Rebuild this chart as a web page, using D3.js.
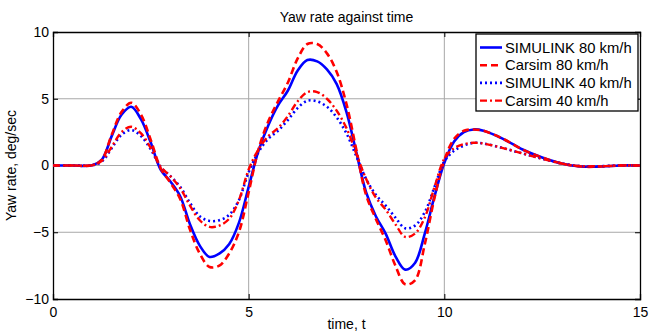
<!DOCTYPE html>
<html>
<head>
<meta charset="utf-8">
<script src="https://cdn.jsdelivr.net/npm/d3@7"></script>
<style>
  body { margin: 0; background: #fff; }
  text { font-family: "Liberation Sans", Arial, sans-serif; fill: #000; }
</style>
</head>
<body>
<div id="chart"></div>
<script>
//Datos
const TIME = [0, 0.5, 1.0, 1.25, 1.5, 1.75, 2.0, 2.25, 2.5, 2.75, 3.0, 3.25, 3.5, 3.75, 4.0, 4.25, 4.5, 4.75,
    5.0, 5.25, 5.5, 5.75, 6.0, 6.25, 6.5, 6.75, 7.0, 7.25, 7.5, 7.75, 8.0, 8.25, 8.5, 8.75, 9.0, 9.25, 9.5, 9.75,
    10.0, 10.25, 10.5, 10.75, 11.0, 11.5, 12.0, 12.5, 13.0, 13.5, 14.0, 14.5, 15];

const SIMULINK_80 = [0, 0, 0.02, 0.45, 2.2, 3.8, 4.4, 3.45, 1.7, -0.3, -1.2, -2.3, -4.4, -6.0, -6.85, -6.6, -5.9, -4.3,
    -1.6, 1.1, 3.0, 4.5, 5.6, 7.1, 7.9, 7.8, 7.2, 6.1, 4.0, 1.0, -2.0, -3.8, -5.1, -6.8, -7.8, -7.3, -5.1, -2.3,
    0.2, 1.8, 2.5, 2.7, 2.6, 2.0, 1.2, 0.6, 0.15, -0.08, -0.08, 0, 0];

const CARSIM_80 = [0, 0, 0.02, 0.45, 2.3, 4.0, 4.7, 3.8, 1.9, -0.2, -1.3, -2.5, -4.8, -6.6, -7.6, -7.5, -6.6, -5.0,
    -2.0, 1.2, 3.3, 4.8, 6.2, 8.0, 9.1, 9.1, 8.4, 7.0, 4.6, 1.2, -2.2, -4.0, -5.6, -7.5, -8.9, -8.6, -5.9, -2.4,
    0.4, 2.0, 2.6, 2.7, 2.6, 2.0, 1.2, 0.6, 0.15, -0.08, -0.08, 0, 0];

const SIMULINK_40 = [0, 0, 0.02, 0.3, 1.3, 2.3, 2.65, 2.2, 1.2, -0.1, -0.8, -1.6, -2.8, -3.8, -4.15, -4.1, -3.7, -2.6,
    -0.5, 1.0, 2.0, 2.6, 3.4, 4.3, 4.85, 4.8, 4.4, 3.6, 2.4, 0.7, -1.0, -2.2, -3.0, -3.9, -4.7, -4.5, -3.5, -1.6,
    0.3, 1.1, 1.5, 1.7, 1.65, 1.3, 0.9, 0.5, 0.15, -0.05, -0.05, 0, 0];

const CARSIM_40 = [0, 0, 0.02, 0.35, 1.4, 2.5, 2.9, 2.4, 1.3, -0.1, -0.8, -1.7, -3.0, -4.1, -4.6, -4.5, -4.0, -2.6,
    -0.3, 1.2, 2.2, 2.8, 3.7, 4.8, 5.5, 5.5, 5.0, 4.1, 2.8, 0.9, -1.0, -2.4, -3.3, -4.4, -5.35, -5.1, -3.9, -1.6,
    0.5, 1.3, 1.6, 1.7, 1.65, 1.3, 0.9, 0.5, 0.15, -0.05, -0.05, 0, 0];

const X_TICKS = [0, 5, 10, 15];
const Y_TICKS = [-10, -5, 0, 5, 10];
const SERIES_NAMES = ['SIMULINK 80 km/h', 'Carsim 80 km/h', 'SIMULINK 40 km/h', 'Carsim 40 km/h'];

//Estilos de cada serie
const styles = [
    {color: '#0000ff', width: 2.6, dash: null},
    {color: '#ff0000', width: 2.6, dash: '7,4'},
    {color: '#0000ff', width: 2.6, dash: '2,3'},
    {color: '#ff0000', width: 2.4, dash: '7,3,2,3'}
];

let margin = {top: 32, right: 12, bottom: 34, left: 53},
    width = 652 - margin.left - margin.right,
    height = 333 - margin.top - margin.bottom;

let svg = d3.select('#chart')
    .append('svg')
        .attr('width', 652)
        .attr('height', 333)
    .append('g')
        .attr('transform', 'translate(' + margin.left + ',' + margin.top + ')');

let x = d3.scaleLinear().domain([0, 15]).range([0, width]);
let y = d3.scaleLinear().domain([-10, 10]).range([height, 0]);

//Rejilla
svg.append('g')
    .selectAll('line.gx')
    .data(X_TICKS.slice(1, -1))
    .enter()
    .append('line')
    .attr('x1', d => x(d)).attr('x2', d => x(d))
    .attr('y1', 0).attr('y2', height)
    .attr('stroke', '#a8a8a8').attr('stroke-width', 1);

svg.append('g')
    .selectAll('line.gy')
    .data(Y_TICKS.slice(1, -1))
    .enter()
    .append('line')
    .attr('x1', 0).attr('x2', width)
    .attr('y1', d => y(d)).attr('y2', d => y(d))
    .attr('stroke', '#a8a8a8').attr('stroke-width', 1);

//Ejes
svg.append('g')
    .attr('transform', 'translate(0,' + height + ')')
    .call(d3.axisBottom(x).tickValues(X_TICKS).tickSize(-5).tickPadding(8));
svg.append('g')
    .call(d3.axisLeft(y).tickValues(Y_TICKS).tickSize(-5).tickPadding(4));
svg.append('g')
    .call(d3.axisTop(x).tickValues(X_TICKS).tickSize(-5).tickFormat(''));
svg.append('g')
    .attr('transform', 'translate(' + width + ',0)')
    .call(d3.axisRight(y).tickValues(Y_TICKS).tickSize(-5).tickFormat(''));

svg.selectAll('.domain').attr('stroke', '#000').attr('stroke-width', 1.3);
svg.selectAll('.tick line').attr('stroke', '#000');
svg.selectAll('.tick text')
    .style('font-size', '14px')
    .style('font-family', '"Liberation Sans", Arial, sans-serif')
    .attr('fill', '#000');

//Lineas
let line = d3.line()
    .x(d => x(d[0]))
    .y(d => y(d[1]))
    .curve(d3.curveCatmullRom.alpha(0.5));

let allSeries = [SIMULINK_80, CARSIM_80, SIMULINK_40, CARSIM_40];

svg.append('g')
    .selectAll('path')
    .data(allSeries)
    .enter()
    .append('path')
    .attr('d', (s) => line(TIME.map((t, i) => [t, s[i]])))
    .attr('fill', 'none')
    .attr('stroke', (d, i) => styles[i].color)
    .attr('stroke-width', (d, i) => styles[i].width)
    .attr('stroke-dasharray', (d, i) => styles[i].dash);

//Titulo y etiquetas
svg.append('text')
    .attr('x', width / 2).attr('y', -10)
    .attr('text-anchor', 'middle')
    .style('font-size', '14px')
    .text('Yaw rate against time');

svg.append('text')
    .attr('x', width / 2).attr('y', height + 30)
    .attr('text-anchor', 'middle')
    .style('font-size', '14px')
    .text('time, t');

svg.append('text')
    .attr('transform', 'translate(' + (-37) + ',' + (height / 2) + ') rotate(-90)')
    .attr('text-anchor', 'middle')
    .style('font-size', '14px')
    .text('Yaw rate, deg/sec');

//Leyenda
let legend = svg.append('g').attr('transform', 'translate(' + (476 - margin.left) + ',' + (34 - margin.top) + ')');
legend.append('rect')
    .attr('width', 162).attr('height', 77)
    .attr('fill', '#fff').attr('stroke', '#000').attr('stroke-width', 1.3);

let items = legend.selectAll('g.item')
    .data(SERIES_NAMES)
    .enter()
    .append('g')
    .attr('transform', (d, i) => 'translate(0,' + (13.5 + i * 17.7) + ')');

items.append('line')
    .attr('x1', 4).attr('x2', 26)
    .attr('stroke', (d, i) => styles[i].color)
    .attr('stroke-width', (d, i) => styles[i].width)
    .attr('stroke-dasharray', (d, i) => styles[i].dash);

items.append('text')
    .attr('x', 29).attr('dy', '0.35em')
    .style('font-size', '14.8px')
    .text(d => d);
</script>
</body>
</html>
